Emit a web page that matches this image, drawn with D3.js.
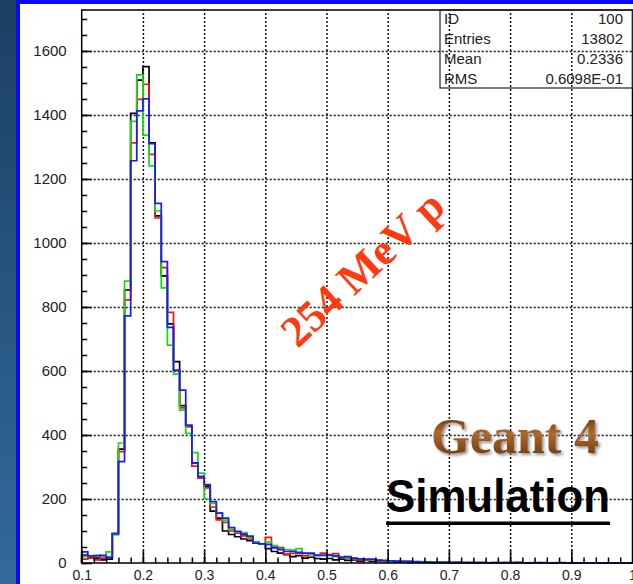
<!DOCTYPE html>
<html>
<head>
<meta charset="utf-8">
<script src="https://cdn.jsdelivr.net/npm/d3@7"></script>
<style>
  body { margin: 0; background: #ffffff; }
  svg { display: block; }
  .tick text { font-family: "Liberation Sans", Arial, sans-serif; fill: #222; }
</style>
</head>
<body>
<div class="svg-container"></div>
<script>
var width = 633;
var height = 584;

// histogram bins: left edges 0.10 .. 0.99, width 0.01
var binStart = 0.1;
var binWidth = 0.01;

// bin contents (one value per bin)
var blackCounts = [25, 18, 15, 10, 12, 92, 356, 853, 1405, 1509,
                   1551, 1313, 1085, 897, 747, 629, 492, 427, 313, 270,
                   240, 162, 140, 100, 89, 82, 75, 70, 62, 60,
                   45, 36, 31, 26, 20, 23, 15, 18, 14, 12,
                   14, 10, 12, 8, 10, 6, 8, 5, 6, 4,
                   4, 3, 4, 2, 3, 2, 2, 1, 2, 1,
                   1, 1, 0, 1, 0, 1, 0, 0, 1, 0,
                   0, 1, 0, 0, 0, 0, 0, 0, 0, 0,
                   0, 0, 0, 0, 0, 0, 0, 0, 0, 0];

var redCounts = [12, 15, 10, 15, 18, 90, 348, 822, 1313, 1449,
                 1496, 1277, 1078, 923, 783, 602, 485, 426, 303, 265,
                 235, 175, 135, 127, 100, 93, 85, 75, 62, 60,
                 80, 51, 48, 28, 30, 31, 22, 26, 24, 31,
                 26, 29, 16, 14, 12, 10, 12, 8, 7, 6,
                 5, 4, 3, 4, 2, 3, 2, 2, 1, 2,
                 1, 1, 1, 0, 1, 0, 0, 1, 0, 0,
                 2, 1, 0, 0, 0, 1, 0, 0, 0, 0,
                 0, 0, 0, 0, 0, 0, 0, 0, 0, 0];

var greenCounts = [20, 22, 25, 22, 35, 88, 375, 881, 1380, 1525,
                   1337, 1241, 1100, 860, 681, 590, 478, 405, 345, 281,
                   200, 186, 157, 134, 106, 97, 95, 80, 66, 60,
                   65, 54, 44, 42, 40, 45, 29, 28, 26, 25,
                   23, 20, 20, 16, 14, 12, 10, 10, 8, 7,
                   6, 5, 4, 5, 3, 4, 2, 3, 2, 1,
                   2, 1, 1, 1, 1, 0, 1, 0, 0, 1,
                   1, 0, 0, 1, 0, 0, 0, 1, 0, 0,
                   0, 0, 0, 0, 0, 0, 0, 0, 0, 0];

var blueCounts = [35, 22, 22, 24, 18, 92, 317, 772, 1257, 1413,
                  1450, 1310, 1124, 942, 736, 602, 540, 431, 313, 270,
                  245, 192, 156, 140, 111, 99, 90, 84, 62, 60,
                  58, 47, 42, 36, 36, 33, 31, 31, 24, 24,
                  25, 22, 18, 20, 15, 13, 11, 12, 9, 8,
                  7, 6, 5, 5, 4, 3, 3, 2, 2, 2,
                  1, 2, 1, 1, 1, 1, 0, 1, 0, 1,
                  0, 1, 0, 0, 1, 0, 0, 0, 1, 0,
                  0, 0, 0, 0, 0, 0, 0, 0, 0, 0];

var xTicks = [0.1, 0.2, 0.3, 0.4, 0.5, 0.6, 0.7, 0.8, 0.9, 1.0];
var yTicks = [0, 200, 400, 600, 800, 1000, 1200, 1400, 1600];

var statLabels = ["ID", "Entries", "Mean", "RMS"];
var statValues = ["100", "13802", "0.2336", "0.6098E-01"];

var frame = { "left": 81.7, "right": 632.5, "top": 10, "bottom": 563 };

var svg = d3.select(".svg-container").append("svg")
            .attr("width", width)
            .attr("height", height);

var defs = svg.append("defs");

var sideGrad = defs.append("linearGradient")
                   .attr("id", "side")
                   .attr("x1", 0).attr("y1", 0).attr("x2", 0).attr("y2", 1);
sideGrad.append("stop").attr("offset", "0%").attr("stop-color", "#1c3f63");
sideGrad.append("stop").attr("offset", "100%").attr("stop-color", "#326a9c");

var geantGrad = defs.append("linearGradient")
                    .attr("id", "geant")
                    .attr("x1", 0).attr("y1", 0).attr("x2", 0).attr("y2", 1);
geantGrad.append("stop").attr("offset", "0%").attr("stop-color", "#4a2208");
geantGrad.append("stop").attr("offset", "45%").attr("stop-color", "#b06a28");
geantGrad.append("stop").attr("offset", "100%").attr("stop-color", "#5a2c0c");

var shadow = defs.append("filter").attr("id", "shadow")
                 .attr("x", "-10%").attr("y", "-20%").attr("width", "130%").attr("height", "150%");
shadow.append("feDropShadow")
      .attr("dx", 2).attr("dy", 2).attr("stdDeviation", 1.5)
      .attr("flood-color", "#777").attr("flood-opacity", 0.8);

// slide background
svg.append("rect").attr("x", 0).attr("y", 0).attr("width", 16).attr("height", height).attr("fill", "url(#side)");
svg.append("rect").attr("x", 16).attr("y", 0).attr("width", 4).attr("height", height).attr("fill", "#0a0aff");
svg.append("rect").attr("x", 16).attr("y", 0).attr("width", width - 16).attr("height", 4).attr("fill", "#0a0aff");

var scaleX = d3.scaleLinear().domain([0.1, 1.0]).range([frame.left, frame.right]);
var scaleY = d3.scaleLinear().domain([0, 1728]).range([frame.bottom, frame.top]);

// grid lines
svg.append("g")
   .attr("class", "grid")
   .attr("transform", "translate(0," + frame.bottom + ")")
   .call(d3.axisBottom(scaleX).tickValues(xTicks.slice(1, 9)).tickSize(-(frame.bottom - frame.top)).tickFormat(""))
   .call(function(g) { g.select(".domain").remove(); })
   .selectAll("line")
   .attr("stroke", "#111")
   .attr("stroke-dasharray", "2,2");

svg.append("g")
   .attr("class", "grid")
   .attr("transform", "translate(" + frame.left + ",0)")
   .call(d3.axisLeft(scaleY).tickValues(yTicks.slice(1)).tickSize(-(frame.right - frame.left)).tickFormat(""))
   .call(function(g) { g.select(".domain").remove(); })
   .selectAll("line")
   .attr("stroke", "#111")
   .attr("stroke-dasharray", "2,2");

// histograms
function stepPath(counts) {
  var pts = [[scaleX(binStart), scaleY(0)]];
  counts.forEach(function(v, i) {
    var x0 = scaleX(binStart + i * binWidth);
    var x1 = scaleX(binStart + (i + 1) * binWidth);
    pts.push([x0, scaleY(v)]);
    pts.push([x1, scaleY(v)]);
  });
  pts.push([scaleX(binStart + counts.length * binWidth), scaleY(0)]);
  return d3.line()(pts);
}

var series = [
  { "counts": blackCounts, "color": "#000000" },
  { "counts": redCounts, "color": "#ff1010" },
  { "counts": greenCounts, "color": "#10e010" },
  { "counts": blueCounts, "color": "#1a1aff" }
];

svg.append("g")
   .attr("class", "hists")
   .selectAll("path")
   .data(series)
   .enter()
   .append("path")
    .attr("d", function(d) { return stepPath(d.counts); })
    .attr("fill", "none")
    .attr("stroke", function(d) { return d.color; })
    .attr("stroke-width", 1.7);

// axes with inward ticks
function xMinor() { return d3.range(10, 100, 2).map(function(v) { return v / 100; }); }
function yMinor() { return d3.range(0, 1750, 50); }

svg.append("g")
   .attr("transform", "translate(0," + frame.bottom + ")")
   .call(d3.axisBottom(scaleX).tickValues(xMinor()).tickSize(-5.5).tickFormat(""))
   .call(function(g) { g.select(".domain").remove(); });

svg.append("g")
   .attr("class", "xAxis")
   .attr("transform", "translate(0," + frame.bottom + ")")
   .call(d3.axisBottom(scaleX).tickValues(xTicks).tickSize(-13).tickPadding(7).tickFormat(d3.format("")))
   .call(function(g) { g.select(".domain").remove(); })
   .selectAll("text")
   .attr("font-size", 14);

svg.append("g")
   .attr("transform", "translate(" + frame.left + ",0)")
   .call(d3.axisLeft(scaleY).tickValues(yMinor()).tickSize(-5.5).tickFormat(""))
   .call(function(g) { g.select(".domain").remove(); });

svg.append("g")
   .attr("class", "yAxis")
   .attr("transform", "translate(" + frame.left + ",0)")
   .call(d3.axisLeft(scaleY).tickValues(yTicks).tickSize(-10).tickPadding(15).tickFormat(d3.format("d")))
   .call(function(g) { g.select(".domain").remove(); })
   .selectAll("text")
   .attr("font-size", 15);

svg.selectAll(".tick line").attr("stroke-width", 1.5);

// frame
svg.append("rect")
   .attr("x", frame.left)
   .attr("y", frame.top)
   .attr("width", frame.right - frame.left)
   .attr("height", frame.bottom - frame.top)
   .attr("fill", "none")
   .attr("stroke", "#000")
   .attr("stroke-width", 1.5);

// statistics box
var box = svg.append("g").attr("class", "stats");
box.append("rect")
   .attr("x", 440).attr("y", frame.top)
   .attr("width", frame.right - 440).attr("height", 78)
   .attr("fill", "none").attr("stroke", "#222").attr("stroke-width", 1.2);
statLabels.forEach(function(label, i) {
  box.append("text")
     .attr("x", 444).attr("y", 24 + i * 20)
     .attr("font-family", "Liberation Sans, Arial, sans-serif")
     .attr("font-size", 15).attr("fill", "#222")
     .text(label);
  box.append("text")
     .attr("x", 623).attr("y", 24 + i * 20)
     .attr("text-anchor", "end")
     .attr("font-family", "Liberation Sans, Arial, sans-serif")
     .attr("font-size", 15).attr("fill", "#222")
     .text(statValues[i]);
});

// annotations
svg.append("text")
   .attr("transform", "translate(362,268) rotate(-43)")
   .attr("text-anchor", "middle")
   .attr("dy", "0.35em")
   .attr("font-family", "Liberation Serif, Times New Roman, serif")
   .attr("font-weight", "bold")
   .attr("font-size", 44)
   .attr("fill", "#ff3a10")
   .text("254 MeV p");

svg.append("text")
   .attr("x", 515).attr("y", 453)
   .attr("text-anchor", "middle")
   .attr("font-family", "Liberation Serif, Times New Roman, serif")
   .attr("font-weight", "bold")
   .attr("font-size", 50)
   .attr("fill", "url(#geant)")
   .attr("filter", "url(#shadow)")
   .text("Geant 4");

svg.append("text")
   .attr("x", 386).attr("y", 512)
   .attr("font-family", "Liberation Sans, Arial, sans-serif")
   .attr("font-weight", "bold")
   .attr("font-size", 47)
   .attr("textLength", 224)
   .attr("lengthAdjust", "spacingAndGlyphs")
   .attr("fill", "#000")
   .text("Simulation");

svg.append("rect")
   .attr("x", 386).attr("y", 521.5)
   .attr("width", 224).attr("height", 3.5)
   .attr("fill", "#000");
</script>
</body>
</html>
